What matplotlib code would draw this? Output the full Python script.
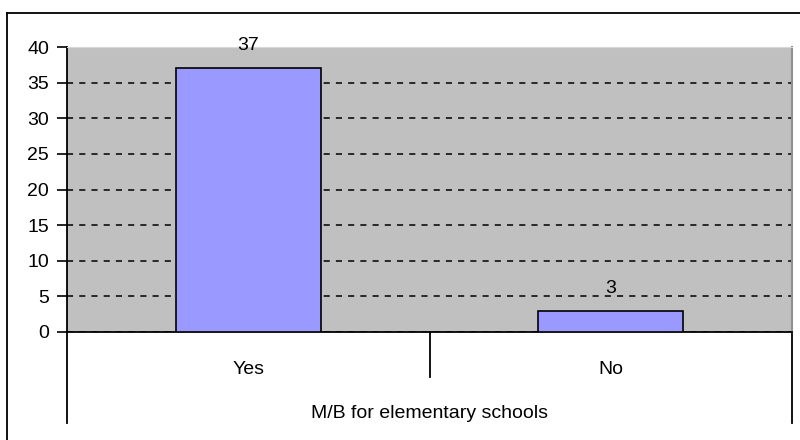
import matplotlib
matplotlib.use("Agg")
import matplotlib.pyplot as plt
from matplotlib.lines import Line2D

categories = ["Yes", "No"]
values = [37, 3]
yticks = [0, 5, 10, 15, 20, 25, 30, 35, 40]
xlabel = "M/B for elementary schools"

plt.rcParams['font.family'] = ['Liberation Sans', 'DejaVu Sans']
FS = 14

W, H = 800, 440
fig = plt.figure(figsize=(W / 100, H / 100), dpi=100)
fig.patch.set_facecolor('white')

L, R, T, B = 67, 792, 47, 332
ax = fig.add_axes([L / W, 1 - B / H, (R - L) / W, (B - T) / H])
ax.set_facecolor('#c0c0c0')

x = list(range(len(categories)))
bars = ax.bar(x, values, width=0.40, color='#9999ff', edgecolor='black', linewidth=1.2, zorder=3)
ax.bar_label(bars, labels=[str(v) for v in values], padding=10, fontsize=FS, color='black')

ax.set_xlim(-0.5, len(categories) - 0.5)
ax.set_ylim(0, 40)
ax.set_yticks(yticks)
ax.set_yticklabels([str(t) for t in yticks], fontsize=FS)
ax.tick_params(axis='y', direction='out', length=7, width=1.2, pad=6, color='black')
ax.yaxis.grid(True, linestyle=(0, (4, 4)), color='black', linewidth=1.1, zorder=1)
ax.set_axisbelow(True)

ax.set_xticks(x)
ax.set_xticklabels(categories, fontsize=FS)
ax.tick_params(axis='x', length=0, pad=21)
ax.set_xlabel(xlabel, fontsize=FS, labelpad=19)

for s in ['left', 'bottom']:
    ax.spines[s].set_color('black')
    ax.spines[s].set_linewidth(1.3)
ax.spines['top'].set_color('#d8d8d8')
ax.spines['right'].set_color('#909090')
ax.spines['right'].set_linewidth(1.5)

# category divider lines below the axis
ext = -(423 - B) / (B - T)
mid = -(377 - B) / (B - T)
for xa, y0 in [(0, ext), (1, ext), (0.5, mid)]:
    ax.add_line(Line2D([xa, xa], [0, y0], transform=ax.transAxes, color='black',
                       linewidth=1.3, clip_on=False))

# outer chart frame (top and left edges visible)
fig.add_artist(Line2D([7 / W, 1.0], [1 - 13 / H, 1 - 13 / H], transform=fig.transFigure,
                      color='black', linewidth=1.3))
fig.add_artist(Line2D([7 / W, 7 / W], [0, 1 - 13 / H], transform=fig.transFigure,
                      color='black', linewidth=1.3))

fig.savefig("out.png", dpi=100)
